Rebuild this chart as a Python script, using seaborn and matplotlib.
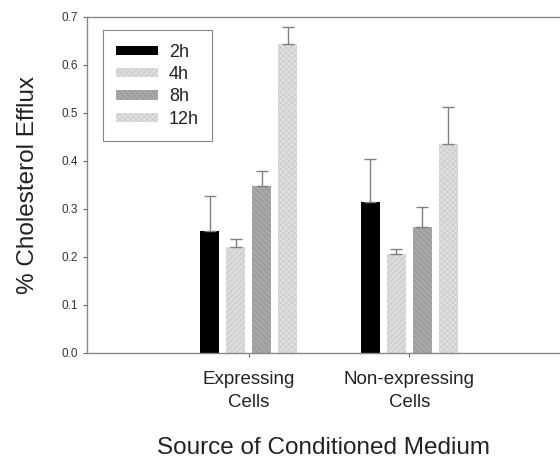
import matplotlib
matplotlib.use("Agg")
import matplotlib.pyplot as plt
import seaborn as sns
import pandas as pd
from matplotlib.patches import Patch

# data
groups = ["Expressing\nCells", "Non-expressing\nCells"]
times = ["2h", "4h", "8h", "12h"]
expressing = [0.254, 0.221, 0.348, 0.644]
expressing_err = [0.073, 0.017, 0.031, 0.036]
non_expressing = [0.315, 0.206, 0.262, 0.435]
non_expressing_err = [0.089, 0.011, 0.042, 0.077]

colors = ["#000000", "#dcdcdc", "#a8a8a8", "#e0e0e0"]
hatch_colors = ["#000000", "#c6c6c6", "#939393", "#cbcbcb"]
hatches = ["", "//////", "\\\\\\\\\\\\", "xxxxxx"]

rows = []
for g, vals in zip(groups, [expressing, non_expressing]):
    for t, v in zip(times, vals):
        rows.append({"group": g, "time": t, "value": v})
df = pd.DataFrame(rows)
errs = {groups[0]: expressing_err, groups[1]: non_expressing_err}

sns.set_style("ticks")
plt.rcParams["font.family"] = ["Liberation Sans", "DejaVu Sans"]
plt.rcParams["hatch.linewidth"] = 0.6

fig = plt.figure(figsize=(5.6, 4.59), dpi=100)
ax = fig.add_axes([0.155, 0.231, 0.845, 0.732])

sns.barplot(
    data=df,
    x="group",
    y="value",
    hue="time",
    order=groups,
    hue_order=times,
    palette=colors,
    width=0.65,
    gap=0.27,
    errorbar=None,
    legend=False,
    ax=ax
)

bar_containers = list(ax.containers)
for i, cont in enumerate(bar_containers):
    for j, bar in enumerate(cont.patches):
        bar.set_hatch(hatches[i])
        bar.set_edgecolor(hatch_colors[i])
        bar.set_linewidth(0)
        cx = bar.get_x() + bar.get_width() / 2
        h = bar.get_height()
        e = errs[groups[j]][i]
        ax.errorbar(
            cx, h, yerr=[[0], [e]],
            fmt="none", ecolor="#808080",
            elinewidth=1.0, capsize=4, capthick=1.0,
            zorder=1
        )

ax.set_ylim(0, 0.7)
ax.set_xlim(-1.01, 1.94)
ax.set_yticks([0.0, 0.1, 0.2, 0.3, 0.4, 0.5, 0.6, 0.7])
ax.set_yticklabels([f"{v:.1f}" for v in ax.get_yticks()], fontsize=8.5, color="#333333")
ax.set_xticks([0, 1])
ax.set_xticklabels(groups, fontsize=13.5, linespacing=1.45, color="#222222")
ax.tick_params(axis="both", length=3, width=0.8, color="#666666")
ax.tick_params(axis="x", pad=10)

for side in ["left", "bottom", "top"]:
    ax.spines[side].set_color("#888888")
    ax.spines[side].set_linewidth(1.0)
ax.spines["right"].set_visible(False)

ax.set_ylabel("% Cholesterol Efflux", fontsize=17.5, labelpad=16, color="#222222")
ax.set_xlabel("Source of Conditioned Medium", fontsize=17.5, labelpad=19, color="#222222")

handles = [
    Patch(facecolor=colors[i], edgecolor=hatch_colors[i], hatch=hatches[i], linewidth=0)
    for i in range(len(times))
]
leg = ax.legend(
    handles, times,
    loc="upper left",
    bbox_to_anchor=(0.034, 0.961),
    borderaxespad=0,
    fontsize=13,
    frameon=True,
    fancybox=False,
    handlelength=2.3,
    handleheight=0.4,
    labelspacing=0.3,
    borderpad=0.75,
    handletextpad=0.6
)
leg.get_frame().set_edgecolor("#666666")
leg.get_frame().set_linewidth(0.8)
for txt in leg.get_texts():
    txt.set_color("#222222")

fig.savefig("out.png", dpi=100)
